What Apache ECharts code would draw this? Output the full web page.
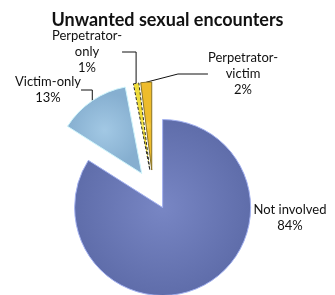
<!DOCTYPE html>
<html>
<head>
<meta charset="utf-8">
<script src="https://cdn.jsdelivr.net/npm/echarts@6/dist/echarts.min.js"></script>
<style>
html,body{margin:0;padding:0;background:#fff;}
#main{width:335px;height:295px;}
</style>
</head>
<body>
<div id="main"></div>
<script>
// categories and shares (percent)
var categories = ['Not involved', 'Victim-only', 'Perpetrator-only', 'Perpetrator-victim'];
var labelTexts = ['Not involved\n84%', 'Victim-only\n13%', 'Perpetrator-\nonly\n1%', 'Perpetrator-\nvictim\n2%'];
var shares = [84, 13, 1, 2];
var innerColors = ['#7886c4', '#a2c8e4', '#f8ee62', '#f8d45a'];
var outerColors = ['#5f6daa', '#86afd0', '#eedc3a', '#eebc2c'];
var borders = ['#a3b1f0', '#cdf4fb', '#2a2a2a', '#8a7426'];
// where each label sits
var labelPos = [[290, 218], [48, 90], [87, 52], [243, 74]];

var baseCenter = [153, 190];
var explode = 20;

var chart = echarts.init(document.getElementById('main'));

var total = 0;
for (var i = 0; i < shares.length; i++) total += shares[i];

// one pie per slice, so every slice can be pulled out on its own
var series = [];
var cum = 0;
for (var k = 0; k < shares.length; k++) {
    var mid = (cum + shares[k] / 2) / total * 2 * Math.PI;
    cum += shares[k];
    var c = [baseCenter[0] + Math.sin(mid) * explode, baseCenter[1] - Math.cos(mid) * explode];
    var data = [];
    for (var i = 0; i < shares.length; i++) {
        var on = i == k;
        data.push({
            name: categories[i],
            value: shares[i],
            itemStyle: on ? {
                color: {type: 'radial', x: 0.5, y: 0.5, r: 0.5, colorStops: [
                    {offset: 0, color: innerColors[i]}, {offset: 1, color: outerColors[i]}]},
                borderColor: borders[i],
                borderWidth: 1,
                borderType: i == 2 ? [3, 2] : 'solid'
            } : {color: 'rgba(0,0,0,0)', borderWidth: 0},
            label: {show: on, formatter: labelTexts[i]},
            labelLine: {show: on && i != 0}
        });
    }
    series.push({
        type: 'pie',
        center: c,
        radius: [0, 88],
        startAngle: 90,
        silent: true,
        z: 2 + k,
        label: {
            position: 'outside',
            overflow: 'none',
            fontFamily: 'Lato',
            fontSize: 13,
            lineHeight: 16,
            color: '#111',
            align: 'center'
        },
        labelLine: {lineStyle: {color: '#111', width: 1}},
        labelLayout: function (p) {
            var pos = labelPos[p.dataIndex];
            return {x: pos[0], y: pos[1], align: 'center', verticalAlign: 'middle'};
        },
        data: data
    });
}

chart.setOption({
    animation: false,
    title: {
        text: 'Unwanted sexual encounters',
        left: 'center',
        top: 6,
        textStyle: {fontFamily: 'Lato', fontWeight: 'bold', fontSize: 18, color: '#111'}
    },
    series: series
});
</script>
</body>
</html>
